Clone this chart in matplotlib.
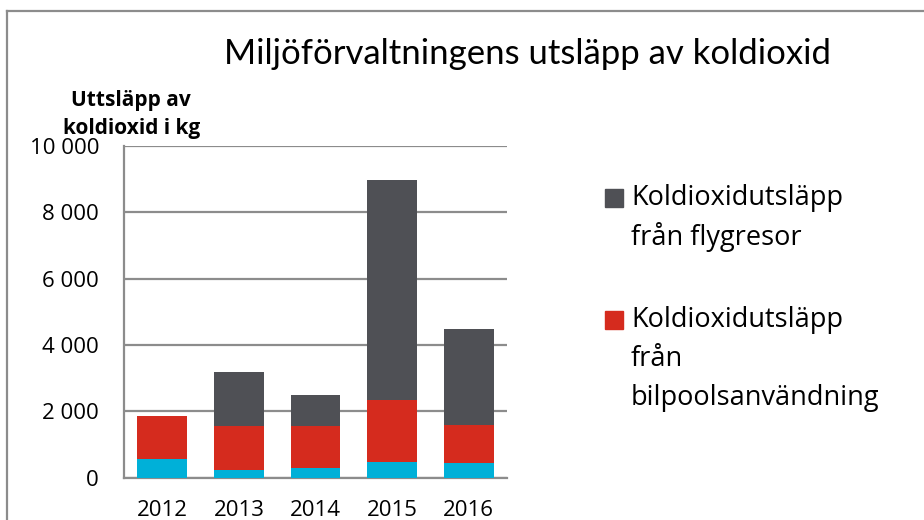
import matplotlib
matplotlib.use("Agg")
import matplotlib.pyplot as plt
from matplotlib.patches import Rectangle
from matplotlib.lines import Line2D
from matplotlib.ticker import FuncFormatter

plt.rcParams['font.family'] = ['Open Sans', 'DejaVu Sans']

years = ['2012', '2013', '2014', '2015', '2016']
# cyan bottom segment (not named in the visible legend)
ovrigt = [550, 230, 280, 470, 440]
bilpool = [1310, 1330, 1280, 1870, 1140]
flyg = [0, 1620, 920, 6650, 2890]

c_cyan = '#00B0D8'
c_red = '#D52B1E'
c_gray = '#4F5055'
grid_c = '#8C8C8C'

fig = plt.figure(figsize=(9.24, 5.2), dpi=100)
ax = fig.add_axes([0.1342, 0.0813, 0.4145, 0.6379])

x = range(len(years))
w = 0.65
ax.bar(x, ovrigt, w, color=c_cyan, zorder=3)
ax.bar(x, bilpool, w, bottom=ovrigt, color=c_red, zorder=3)
bottom2 = [a + b for a, b in zip(ovrigt, bilpool)]
ax.bar(x, flyg, w, bottom=bottom2, color=c_gray, zorder=3)

ax.set_ylim(0, 10000)
ax.set_xlim(-0.5, len(years) - 0.5)
ax.set_yticks(range(0, 10001, 2000))
ax.yaxis.set_major_formatter(FuncFormatter(lambda v, p: f"{int(v):,}".replace(",", " ")))
ax.set_xticks(list(x))
ax.set_xticklabels(years)
ax.tick_params(length=0, labelsize=16, colors='black')
ax.tick_params(axis='y', pad=18)
ax.tick_params(axis='x', pad=16)
ax.grid(axis='y', color=grid_c, lw=1.6, zorder=0)
for s in ['top', 'right']:
    ax.spines[s].set_visible(False)
for s in ['left', 'bottom']:
    ax.spines[s].set_color(grid_c)
    ax.spines[s].set_linewidth(1.6)

fig.text(0.571, 0.896, 'Miljöförvaltningens utsläpp av koldioxid', ha='center', va='center',
         fontsize=25, family=['Lato', 'DejaVu Sans'])
fig.text(0.142, 0.806, 'Uttsläpp av', ha='center', va='center', fontsize=15, fontweight='bold')
fig.text(0.142, 0.753, 'koldioxid i kg', ha='center', va='center', fontsize=15, fontweight='bold')

# legend, drawn by hand so the swatch lines up with the first text line
legend = [(c_gray, ['Koldioxidutsläpp', 'från flygresor'], 198),
          (c_red, ['Koldioxidutsläpp', 'från', 'bilpoolsanvändning'], 320)]
for col, lines, ytop in legend:
    fig.patches.append(Rectangle((605 / 924, 1 - (ytop + 9) / 520), 18 / 924, 18 / 520,
                                 transform=fig.transFigure, color=col))
    for i, t in enumerate(lines):
        fig.text(631 / 924, 1 - (ytop + i * 39) / 520, t, ha='left', va='center', fontsize=19.5)

# outer chart border (cropped on right and bottom)
fig.add_artist(Line2D([7 / 924, 7 / 924], [0, 1 - 11 / 520], transform=fig.transFigure, color=grid_c, lw=1.6))
fig.add_artist(Line2D([7 / 924, 1], [1 - 11 / 520, 1 - 11 / 520], transform=fig.transFigure, color=grid_c, lw=1.6))

fig.savefig('out.png', dpi=100)
